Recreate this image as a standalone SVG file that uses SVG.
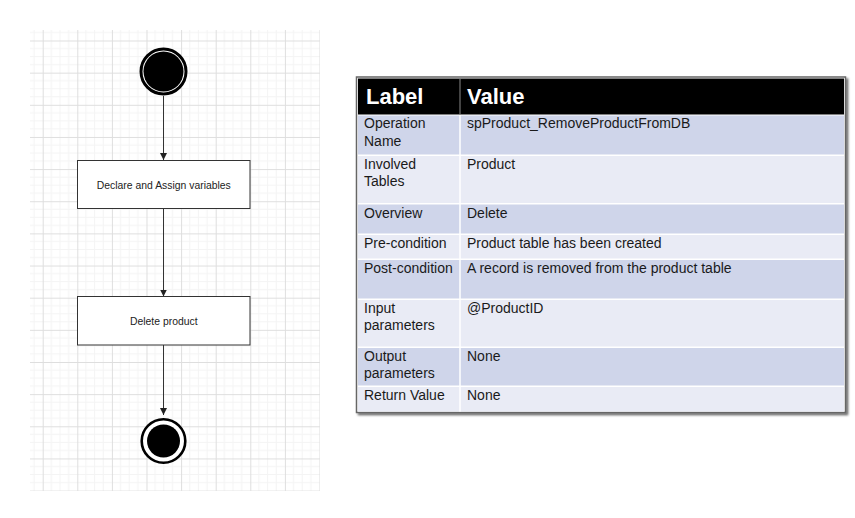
<svg xmlns="http://www.w3.org/2000/svg" width="855" height="518" viewBox="0 0 855 518">
<defs>
<pattern id="grid" patternUnits="userSpaceOnUse" x="8.1" y="8.35" width="34.6" height="32.15">
<path d="M8.65 0V32.15M17.3 0V32.15M25.95 0V32.15M0 8.04H34.6M0 16.08H34.6M0 24.11H34.6" stroke="#f4f4f4" stroke-width="1" fill="none"/>
<path d="M0.5 0V32.15M0 0.5H34.6" stroke="#dedede" stroke-width="1" fill="none"/>
</pattern>
<marker id="arr" viewBox="0 0 10 10" refX="10" refY="5" markerWidth="7" markerHeight="7" markerUnits="userSpaceOnUse" orient="auto">
<path d="M0 0L10 5L0 10Z" fill="#222"/>
</marker>
<filter id="sh" x="-5%" y="-5%" width="110%" height="110%">
<feDropShadow dx="2" dy="2" stdDeviation="0.8" flood-color="#000" flood-opacity="0.6"/>
</filter>
</defs>
<style>
.box{fill:#fff;stroke:#333;stroke-width:1}
.bt{font-family:"Liberation Sans",Arial,sans-serif;font-size:10.4px;fill:#222;text-anchor:middle}
.conn{stroke:#333;stroke-width:1;fill:none}
.hd{font-family:"Liberation Sans",Arial,sans-serif;font-size:22px;font-weight:bold;fill:#fff}
.t{font-family:"Liberation Sans",Arial,sans-serif;font-size:14px;fill:#1a1a1a}
.dk{fill:#cfd5ea}
.lt{fill:#e9ebf5}
</style>
<rect x="0" y="0" width="855" height="518" fill="#fff"/>
<rect x="30" y="30" width="290" height="461" fill="url(#grid)"/>

<g id="connectors">
<line class="conn" x1="163.5" y1="96" x2="163.5" y2="160" marker-end="url(#arr)"/>
<line class="conn" x1="163.5" y1="209" x2="163.5" y2="296.5" marker-end="url(#arr)"/>
<line class="conn" x1="163.5" y1="345" x2="163.5" y2="415" marker-end="url(#arr)"/>
</g>

<g id="start">
<circle cx="163.5" cy="71.5" r="22.5" fill="#fff" stroke="#000" stroke-width="3"/>
<circle cx="163.5" cy="71.5" r="20" fill="#000"/>
</g>
<g id="declare">
<rect class="box" x="77.5" y="160.5" width="172.5" height="48"/>
<text class="bt" x="163.8" y="188.5">Declare and Assign variables</text>
</g>
<g id="delete">
<rect class="box" x="77.5" y="296.5" width="172.5" height="48.5"/>
<text class="bt" x="163.8" y="324.5">Delete product</text>
</g>
<g id="end">
<circle cx="163.5" cy="441" r="21.8" fill="#fff" stroke="#000" stroke-width="2.6"/>
<circle cx="163.5" cy="441" r="16.5" fill="#000"/>
</g>

<g id="table">
<rect x="356.5" y="77" width="489" height="335.5" fill="#fff" stroke="#666" stroke-width="1.5" filter="url(#sh)"/>
<rect x="358" y="78.5" width="486" height="36" fill="#000"/>
<line x1="460" y1="78.5" x2="460" y2="114.5" stroke="#888" stroke-width="1"/>
<rect class="dk" x="358" y="115.5" width="486" height="39"/>
<rect class="lt" x="358" y="156" width="486" height="47"/>
<rect class="dk" x="358" y="204.5" width="486" height="29"/>
<rect class="lt" x="358" y="235" width="486" height="23.5"/>
<rect class="dk" x="358" y="260" width="486" height="38.5"/>
<rect class="lt" x="358" y="300" width="486" height="46.5"/>
<rect class="dk" x="358" y="348" width="486" height="37.5"/>
<rect class="lt" x="358" y="387" width="486" height="24.5"/>
<line x1="460" y1="115" x2="460" y2="411.5" stroke="#fff" stroke-width="1.5"/>
<text class="hd" x="366" y="104">Label</text>
<text class="hd" x="467" y="104">Value</text>
<text class="t" x="364" y="128">Operation</text>
<text class="t" x="364" y="145.5">Name</text>
<text class="t" x="467" y="128">spProduct_RemoveProductFromDB</text>
<text class="t" x="364" y="168.5">Involved</text>
<text class="t" x="364" y="186">Tables</text>
<text class="t" x="467" y="168.5">Product</text>
<text class="t" x="364" y="217.5">Overview</text>
<text class="t" x="467" y="217.5">Delete</text>
<text class="t" x="364" y="247.5">Pre-condition</text>
<text class="t" x="467" y="247.5">Product table has been created</text>
<text class="t" x="364" y="273">Post-condition</text>
<text class="t" x="467" y="273">A record is removed from the product table</text>
<text class="t" x="364" y="312.5">Input</text>
<text class="t" x="364" y="330">parameters</text>
<text class="t" x="467" y="312.5">@ProductID</text>
<text class="t" x="364" y="360.5">Output</text>
<text class="t" x="364" y="378">parameters</text>
<text class="t" x="467" y="360.5">None</text>
<text class="t" x="364" y="399.5">Return Value</text>
<text class="t" x="467" y="399.5">None</text>
</g>
</svg>
